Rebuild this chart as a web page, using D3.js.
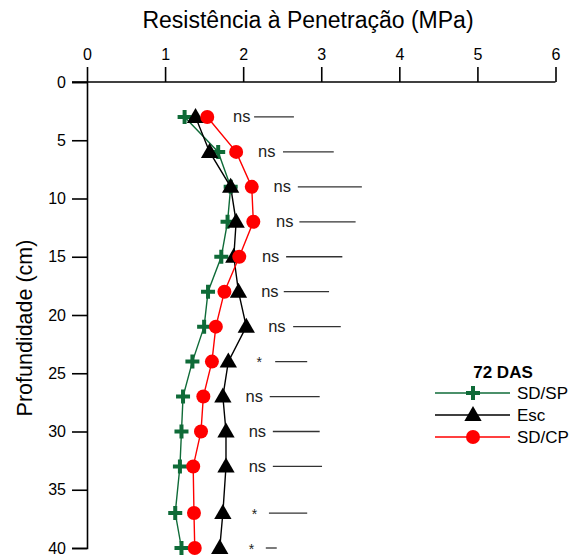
<!DOCTYPE html>
<html>
<head>
<meta charset="utf-8">
<script src="https://cdn.jsdelivr.net/npm/d3@7"></script>
<style>
  body { margin: 0; background: #fff; }
  text { font-family: Arial, "Liberation Sans", sans-serif; }
</style>
</head>
<body>
<div id="chart"></div>
<script>
// Data
const depths = [3, 6, 9, 12, 15, 18, 21, 24, 27, 30, 33, 37, 40];
const sdsp = [1.25, 1.68, 1.84, 1.80, 1.72, 1.55, 1.50, 1.35, 1.23, 1.21, 1.19, 1.13, 1.21];
const esc  = [1.39, 1.57, 1.84, 1.91, 1.88, 1.94, 2.04, 1.81, 1.74, 1.78, 1.78, 1.74, 1.70];
const sdcp = [1.54, 1.91, 2.11, 2.13, 1.95, 1.76, 1.65, 1.60, 1.49, 1.46, 1.36, 1.37, 1.38];
// significance label, where it sits (MPa) and the bar next to it (start, length in MPa)
const signif = ['ns', 'ns', 'ns', 'ns', 'ns', 'ns', 'ns', '*', 'ns', 'ns', 'ns', '*', '*'];
const labelAt = [1.87, 2.19, 2.39, 2.42, 2.24, 2.23, 2.32, 2.17, 2.03, 2.07, 2.07, 2.11, 2.07];
const barStart = [2.14, 2.51, 2.70, 2.72, 2.55, 2.52, 2.64, 2.41, 2.34, 2.38, 2.38, 2.33, 2.29];
const barLen = [0.51, 0.65, 0.82, 0.72, 0.72, 0.58, 0.61, 0.41, 0.64, 0.60, 0.63, 0.49, 0.14];
const xTicks = [0, 1, 2, 3, 4, 5, 6];
const yTicks = [0, 5, 10, 15, 20, 25, 30, 35, 40];
const legendTitle = '72 DAS';

const series = [
  {name: 'SD/SP', values: sdsp, color: '#0f6b38', marker: 'plus'},
  {name: 'Esc', values: esc, color: '#000000', marker: 'triangle'},
  {name: 'SD/CP', values: sdcp, color: '#ff0000', marker: 'circle'}
];

const width = 571, height = 559;
const svg = d3.select('#chart').append('svg')
  .attr('width', width).attr('height', height);

const x = d3.scaleLinear().domain([0, 6]).range([87, 555.5]);
const y = d3.scaleLinear().domain([0, 40]).range([82, 548]);

// axes: major + minor ticks
const gx = svg.append('g').attr('transform', `translate(0,${y(0)})`);
gx.call(d3.axisTop(x).tickValues(d3.range(0.5, 6, 1)).tickSize(8).tickFormat(''));
gx.call(d3.axisTop(x).tickValues(xTicks).tickSize(15).tickPadding(7).tickFormat(d3.format('d')));
gx.selectAll('.domain').attr('d', `M${x(0) - 15},0H${x(6)}`);

const gy = svg.append('g').attr('transform', `translate(${x(0)},0)`);
gy.call(d3.axisLeft(y).tickValues(d3.range(2.5, 40, 5)).tickSize(8).tickFormat(''));
gy.call(d3.axisLeft(y).tickValues(yTicks).tickSize(15).tickPadding(6).tickFormat(d3.format('d')));

svg.selectAll('.domain, .tick line').attr('stroke', '#000').attr('stroke-width', 1.6);
svg.selectAll('.tick text').attr('font-size', 16).attr('fill', '#000')
  .style('font-family', 'Arial, "Liberation Sans", sans-serif');
svg.selectAll('.domain').attr('fill', 'none');

// titles
svg.append('text').attr('x', 308).attr('y', 28).attr('text-anchor', 'middle')
  .attr('font-size', 23).text('Resistência à Penetração (MPa)');
svg.append('text').attr('transform', 'translate(32,328) rotate(-90)').attr('text-anchor', 'middle')
  .attr('font-size', 21.5).text('Profundidade (cm)');

// marker drawing
function drawMarker(g, type, color) {
  if (type === 'plus') {
    g.append('path').attr('d', 'M-7,0H7M0,-7V7')
      .attr('stroke', color).attr('stroke-width', 4).attr('fill', 'none');
  } else if (type === 'triangle') {
    g.append('path').attr('d', d3.symbol(d3.symbolTriangle, 130)())
      .attr('transform', 'translate(0,1)').attr('fill', color);
  } else {
    g.append('circle').attr('r', 7).attr('fill', color);
  }
}

const line = d3.line().x(d => x(d[0])).y(d => y(d[1]));

series.forEach(s => {
  const pts = s.values.map((v, i) => [v, depths[i]]);
  svg.append('path').datum(pts).attr('d', line)
    .attr('fill', 'none').attr('stroke', s.color).attr('stroke-width', 1.4);
});
series.forEach(s => {
  s.values.forEach((v, i) => {
    const g = svg.append('g').attr('transform', `translate(${x(v)},${y(depths[i])})`);
    drawMarker(g, s.marker, s.color);
  });
});

// significance labels and bars
const ann = svg.append('g');
ann.selectAll('text').data(depths).join('text')
  .attr('x', (d, i) => x(labelAt[i]))
  .attr('y', d => y(d) + 5.5)
  .attr('font-size', (d, i) => signif[i] === '*' ? 14 : 16.5)
  .attr('fill', '#222')
  .text((d, i) => signif[i]);
ann.selectAll('line').data(depths).join('line')
  .attr('x1', (d, i) => x(barStart[i]))
  .attr('x2', (d, i) => x(barStart[i] + barLen[i]))
  .attr('y1', d => y(d)).attr('y2', d => y(d))
  .attr('stroke', '#333').attr('stroke-width', 1.3);

// legend
const leg = svg.append('g').attr('transform', 'translate(435,372)');
leg.append('text').attr('x', 68).attr('y', 6).attr('text-anchor', 'middle')
  .attr('font-size', 17).attr('font-weight', 'bold').text(legendTitle);
series.forEach((s, i) => {
  const row = leg.append('g').attr('transform', `translate(0,${21 + i * 22})`);
  row.append('line').attr('x1', 0).attr('x2', 75).attr('stroke', s.color).attr('stroke-width', 1.4);
  const m = row.append('g').attr('transform', 'translate(38,0)');
  drawMarker(m, s.marker, s.color);
  row.append('text').attr('x', 82).attr('y', 6).attr('font-size', 17).text(s.name);
});
</script>
</body>
</html>
